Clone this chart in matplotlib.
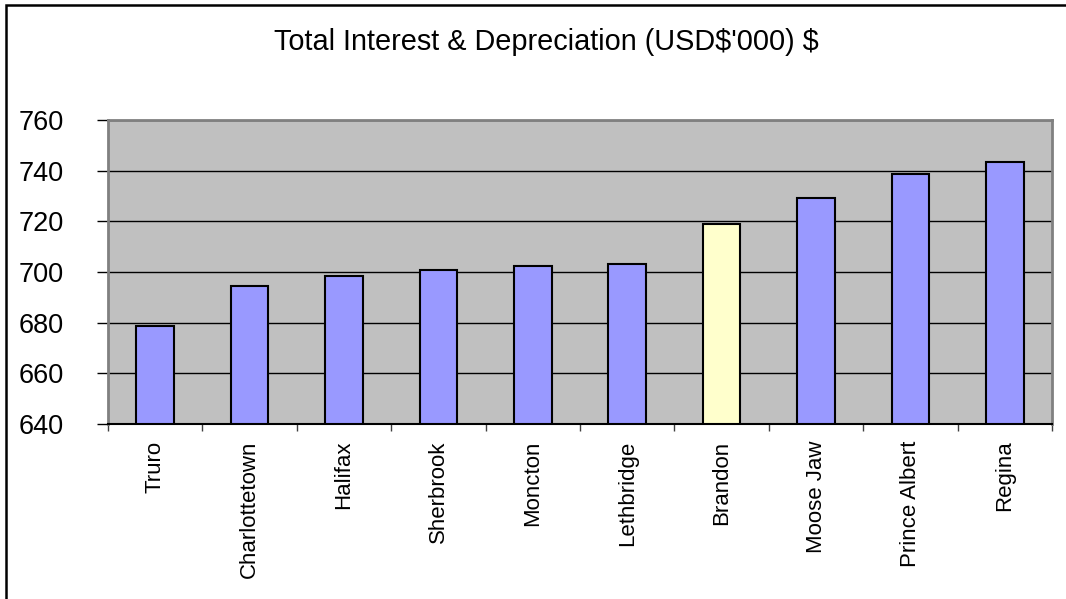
import matplotlib
matplotlib.use("Agg")
import matplotlib.pyplot as plt
from matplotlib.patches import Rectangle
import numpy as np

plt.rcParams['font.family'] = ['Liberation Sans', 'DejaVu Sans']

cities = ["Truro", "Charlottetown", "Halifax", "Sherbrook", "Moncton",
          "Lethbridge", "Brandon", "Moose Jaw", "Prince Albert", "Regina"]
values = [678.6, 694.5, 698.3, 700.7, 702.2, 703.2, 718.9, 729.2, 738.7, 743.4]
highlight = "Brandon"
title = "Total Interest & Depreciation (USD$'000) $"
yticks = [640, 660, 680, 700, 720, 740, 760]

W, H = 1066, 599
fig = plt.figure(figsize=(W / 100, H / 100), dpi=100)
fig.patch.set_facecolor("white")

# outer chart frame (only top/left visible in the reference)
fig.add_artist(Rectangle((6 / W, -0.5), 2.0, 1.5 - 4.5 / H,
                         transform=fig.transFigure, fill=False,
                         edgecolor="black", linewidth=1.8))

ax = fig.add_axes([108 / W, (H - 424) / H, (1052 - 108) / W, (424 - 120) / H])
ax.set_facecolor("#C0C0C0")

x = np.arange(len(cities))
colors = ["#FFFFCC" if c == highlight else "#9999FF" for c in cities]
ax.bar(x, np.array(values) - 640, bottom=640, width=0.4, color=colors,
       edgecolor="black", linewidth=1.5, zorder=3)

ax.set_xlim(-0.5, len(cities) - 0.5)
ax.set_ylim(640, 760)
ax.set_yticks(yticks)
ax.set_yticklabels([str(v) for v in yticks], fontsize=19.5)
ax.yaxis.grid(True, color="black", linewidth=1.0, zorder=1)
ax.set_axisbelow(True)

ax.set_xticks(x)
ax.set_xticklabels(cities, rotation=90, fontsize=16, va="top", ha="center")
ax.set_xticks(np.arange(len(cities) + 1) - 0.5, minor=True)
ax.tick_params(axis="x", which="major", length=0, pad=12)
ax.tick_params(axis="x", which="minor", length=5, width=1, color="#404040", direction="out")
ax.tick_params(axis="y", length=8, width=1, color="black", direction="out", pad=24)

for s in ["left", "top", "right"]:
    ax.spines[s].set_color("#808080")
    ax.spines[s].set_linewidth(2)
ax.spines["bottom"].set_color("black")
ax.spines["bottom"].set_linewidth(1.5)

fig.text(546 / W, 1 - 42 / H, title, ha="center", va="center", fontsize=20.8,
         parse_math=False)

fig.savefig("out.png", dpi=100)
